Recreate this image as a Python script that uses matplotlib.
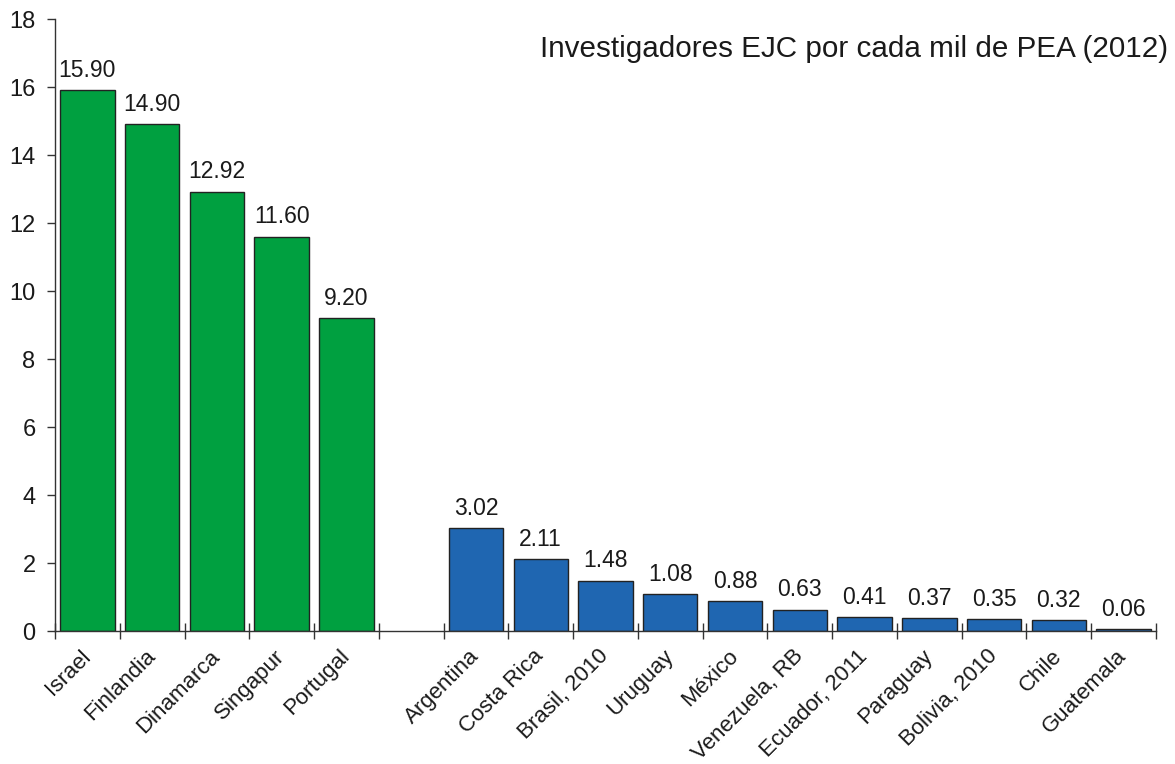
import matplotlib.pyplot as plt
import numpy as np

plt.rcParams['font.family'] = ['Liberation Sans', 'DejaVu Sans']

# Investigadores EJC por cada mil de PEA
ref_countries = ['Israel', 'Finlandia', 'Dinamarca', 'Singapur', 'Portugal']
ref_values = [15.90, 14.90, 12.92, 11.60, 9.20]

latam_countries = ['Argentina', 'Costa Rica', 'Brasil, 2010', 'Uruguay', 'México',
                   'Venezuela, RB', 'Ecuador, 2011', 'Paraguay', 'Bolivia, 2010',
                   'Chile', 'Guatemala']
latam_values = [3.02, 2.11, 1.48, 1.08, 0.88, 0.63, 0.41, 0.37, 0.35, 0.32, 0.06]

green = '#00a040'
blue = '#1f66b1'
ink = '#1a1a1a'


def draw_bars(ax, pos, values, color):
    ax.bar(pos, values, width=0.84, color=color, edgecolor='#222222', linewidth=1.0)
    for x, v in zip(pos, values):
        ax.annotate(f'{v:.2f}', (x, v), xytext=(0, 6), textcoords='offset points',
                    ha='center', va='bottom', fontsize=16.5, color=ink)


if __name__ == '__main__':
    fig = plt.figure(figsize=(11.75, 7.64), dpi=100)
    ax = fig.add_axes([55 / 1175, 1 - 631 / 764, (1156 - 55) / 1175, (631 - 19) / 764])

    # one empty slot between the two groups
    ref_pos = np.arange(len(ref_values))
    latam_pos = np.arange(len(latam_values)) + len(ref_values) + 1
    draw_bars(ax, ref_pos, ref_values, green)
    draw_bars(ax, latam_pos, latam_values, blue)

    n_slots = len(ref_values) + 1 + len(latam_values)
    ax.set_xlim(-0.5, n_slots - 0.5)
    ax.set_ylim(0, 18)
    ax.set_yticks(np.arange(0, 19, 2))

    ax.set_xticks(np.concatenate([ref_pos, latam_pos]))
    ax.set_xticklabels(ref_countries + latam_countries, rotation=45, ha='right',
                       va='center', rotation_mode='anchor', fontsize=16, color=ink)
    ax.set_xticks(np.arange(-0.5, n_slots), minor=True)
    ax.tick_params(axis='x', which='major', length=0, pad=16)
    ax.tick_params(axis='x', which='minor', direction='inout', length=12, width=1.0,
                   color='#333333')
    ax.tick_params(axis='y', direction='out', length=6, width=1.0, labelsize=17,
                   color='#333333', labelcolor=ink, pad=8)

    for side in ['top', 'right']:
        ax.spines[side].set_visible(False)
    for side in ['left', 'bottom']:
        ax.spines[side].set_color('#333333')
        ax.spines[side].set_linewidth(1.0)

    fig.text(1168 / 1175, 1 - 49 / 764, 'Investigadores EJC por cada mil de PEA (2012)',
             ha='right', va='center', fontsize=21.3, color=ink)

    fig.savefig('out.png', dpi=100)
